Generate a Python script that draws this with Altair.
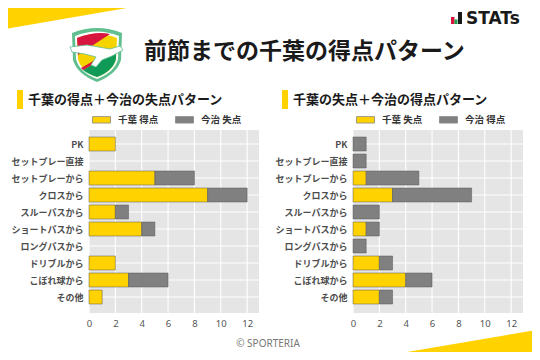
import altair as alt
import pandas as pd

# ---------------- data ----------------
categories = ["PK", "セットプレー直接", "セットプレーから", "クロスから", "スルーパスから",
              "ショートパスから", "ロングパスから", "ドリブルから", "こぼれ球から", "その他"]
left_chiba_scored = [2, 0, 5, 9, 2, 4, 0, 2, 3, 1]
left_imabari_conceded = [0, 0, 3, 3, 1, 1, 0, 0, 3, 0]
right_chiba_conceded = [0, 0, 1, 3, 0, 1, 0, 2, 4, 2]
right_imabari_scored = [1, 1, 4, 6, 2, 1, 1, 1, 2, 1]

left_series = ["千葉 得点", "今治 失点"]
right_series = ["千葉 失点", "今治 得点"]
left_title = "千葉の得点＋今治の失点パターン"
right_title = "千葉の失点＋今治の得点パターン"
main_title = "前節までの千葉の得点パターン"
x_ticks = [0, 2, 4, 6, 8, 10, 12]

YEL = "#FFD200"
GRAY = "#808080"
JP = "Noto Sans CJK JP"

W, H = 524, 344


def long_df(a, b, series):
    rows = []
    for i, c in enumerate(categories):
        rows.append({"category": c, "series": series[0], "value": a[i], "order": 0})
        rows.append({"category": c, "series": series[1], "value": b[i], "order": 1})
    return pd.DataFrame(rows)


one = pd.DataFrame({"d": [0]})


def panel(df, series, x0, x1, legend_x, title_x, title):
    xs = alt.Scale(domain=[0, 12.9], range=[x0, x1], nice=False, zero=True)
    ys = alt.Scale(type="point", domain=categories, range=[136, 289], padding=0)
    xaxis = alt.Axis(orient="bottom", offset=-(H - 305), values=x_ticks, grid=False,
                     domain=False, ticks=False, labelPadding=5, labelFontSize=9.5,
                     labelColor="#555555", labelFont="Noto Sans", title=None,
                     format="d", labelFlush=False)
    yaxis = alt.Axis(orient="left", offset=-x0, grid=False, domain=False, ticks=False,
                     labelPadding=6, labelFontSize=9, labelFont=JP, labelFontWeight="bold",
                     labelColor="#4d4d4d", title=None, labelLimit=200, labelOverlap=False)

    bg = alt.Chart(one).mark_rect(fill="#E5E5E5").encode(
        x=alt.value(x0), x2=alt.value(x1), y=alt.value(122), y2=alt.value(305))

    vgrid = alt.Chart(pd.DataFrame({"t": x_ticks})).mark_rule(
        color="white", strokeWidth=1.1).encode(
        x=alt.X("t:Q", scale=xs, axis=xaxis), y=alt.value(122), y2=alt.value(305))

    hgrid = alt.Chart(pd.DataFrame({"category": categories})).mark_rule(
        color="white", strokeWidth=1.1).encode(
        y=alt.Y("category:N", scale=ys, axis=yaxis), x=alt.value(x0), x2=alt.value(x1))

    bars = alt.Chart(df).transform_filter("datum.value > 0").mark_bar(
        height=14, stroke="#555555", strokeWidth=0.9, strokeOpacity=0.55).encode(
        x=alt.X("value:Q", scale=xs, stack="zero", axis=xaxis),
        y=alt.Y("category:N", scale=ys, axis=yaxis),
        color=alt.Color("series:N", scale=alt.Scale(domain=series, range=[YEL, GRAY]),
                        legend=alt.Legend(orient="none", legendX=legend_x, legendY=102,
                                          direction="horizontal", columns=2, title=None,
                                          symbolType="M-1,-0.36H1V0.36H-1Z", symbolSize=324,
                                          symbolStrokeColor="#888888", symbolStrokeWidth=0.8,
                                          symbolOpacity=1, labelFontSize=9.5, labelFont=JP,
                                          labelFontWeight="bold", labelColor="#333333",
                                          labelOffset=7, columnPadding=14)),
        order=alt.Order("order:Q"),
    )

    tbar = alt.Chart(one).mark_rect(fill=YEL).encode(
        x=alt.value(title_x - 11), x2=alt.value(title_x - 5), y=alt.value(82), y2=alt.value(101))
    ttext = alt.Chart(one).mark_text(text=title, align="left", baseline="middle", font=JP,
                                     fontSize=13, fontWeight="bold", color="#1a1a1a").encode(
        x=alt.value(title_x), y=alt.value(92))

    return alt.layer(bg, vgrid, hgrid, bars, tbar, ttext)


def shape(path, fill, x, y, stroke=None, sw=0):
    kw = dict(shape=path, size=4, filled=True, fill=fill, opacity=1, fillOpacity=1)
    if stroke:
        kw.update(stroke=stroke, strokeWidth=sw)
    else:
        kw.update(strokeWidth=0)
    return alt.Chart(one).mark_point(**kw).encode(x=alt.value(x), y=alt.value(y))


# decorations
tri_tl = shape("M-8,-8 L165,-8 L-8,22 Z", YEL, 0, 0)
tri_br = shape("M352,352 L540,320 L540,360 L352,360 Z", YEL, 0, 0)

LX, LY = 89, 46
logo = [
    shape("M-25,-21 Q0,-31 25,-21 L24,6 Q20,20 0,28 Q-20,20 -24,6 Z", "#5fbf8f", LX, LY),
    shape("M-22,-18 Q0,-27 22,-18 L21,5 Q18,18 0,25 Q-18,18 -21,5 Z", "#ffffff", LX, LY),
    shape("M-20,-16 Q0,-24 20,-16 L19,5 Q16,17 0,23 Q-16,17 -19,5 Z", "#F5D300", LX, LY),
    shape("M-20,-16 Q-2,-23 13,-20 L-19,1 Z", "#D7153F", LX, LY),
    shape("M19,-3 L19,5 Q16,17 0,23 Q-9,20 -14,16 Z", "#0F9A58", LX, LY),
    shape("M19,-6 L19,-3 L-14,16 L-16,14 Z", "#D7153F", LX, LY),
    shape("M-27,-7 L-10,-9 L13,-5 L23,-8 L26,-4 L15,2 L5,6 L-1,13 L-6,11 L-1,3 L-12,0 L-25,-2 Z",
          "#ffffff", LX, LY, stroke="#5fbf8f", sw=0.8),
]

heading = alt.Chart(one).mark_text(text=main_title, align="left", baseline="middle", font=JP,
                                   fontSize=23, fontWeight="bold", color="#1a1a1a").encode(
    x=alt.value(136), y=alt.value(44))

ic_red = alt.Chart(one).mark_rect(fill="#D7153F").encode(
    x=alt.value(443), x2=alt.value(446.5), y=alt.value(9), y2=alt.value(16))
ic_green = alt.Chart(one).mark_rect(fill="#1E9E4A").encode(
    x=alt.value(446.5), x2=alt.value(449.5), y=alt.value(11.5), y2=alt.value(16))
ic_black = alt.Chart(one).mark_rect(fill="#1a1a1a").encode(
    x=alt.value(450), x2=alt.value(454), y=alt.value(4), y2=alt.value(16))
stats = alt.Chart(one).mark_text(text="STATs", align="left", baseline="middle",
                                 font="DejaVu Sans", fontSize=17, fontWeight="bold",
                                 color="#1a1a1a").encode(x=alt.value(458), y=alt.value(10.5))

footer = alt.Chart(one).mark_text(text="© SPORTERIA", align="center", baseline="middle",
                                  font="Noto Sans", fontSize=10, color="#777777").encode(
    x=alt.value(260), y=alt.value(336))

left = panel(long_df(left_chiba_scored, left_imabari_conceded, left_series),
             left_series, 81, 251, 84, 20, left_title)
right = panel(long_df(right_chiba_conceded, right_imabari_scored, right_series),
              right_series, 345, 515, 348, 285, right_title)

chart = alt.layer(
    tri_tl, tri_br, *logo, heading, ic_red, ic_green, ic_black, stats, footer, left, right
).resolve_scale(
    x="independent", y="independent", color="independent"
).properties(
    width=W, height=H, padding=0, background="white",
    autosize=alt.AutoSizeParams(type="none"),
).configure_view(stroke=None)

chart.save("out.html", embed_options={"renderer": "svg", "actions": False})
